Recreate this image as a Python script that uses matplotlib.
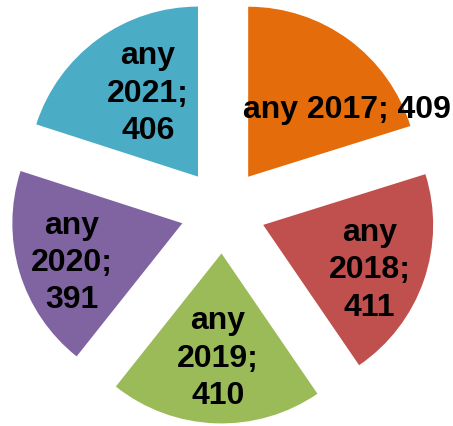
import numpy as np
import matplotlib.pyplot as plt

plt.rcParams["font.family"] = ["Liberation Sans", "DejaVu Sans"]

# data
years = ["any 2017", "any 2018", "any 2019", "any 2020", "any 2021"]
counts = [409, 411, 410, 391, 406]
colors = ["#E46C0A", "#C0504D", "#9BBB59", "#8064A2", "#4BACC6"]

# label layout (excel wraps all but the first one)
wrap = [False, True, True, True, True]
label_dist = [0.70, 0.68, 0.62, 0.69, 0.57]
label_turn = [-19.5, -4, 0, 3, -5]


def make_label(name, val, w):
    if w:
        return name.replace(" ", "\n") + ";\n" + str(val)
    return f"{name}; {val}"


def main():
    fig = plt.figure(figsize=(4.53, 4.26), dpi=100)
    ax = fig.add_axes([0, 0, 1, 1])

    wedges, _ = ax.pie(counts, colors=colors, startangle=90, counterclock=False,
                       explode=[0.25] * len(counts), radius=1.0,
                       wedgeprops=dict(linewidth=0))

    for w, name, val, wr, d, t in zip(wedges, years, counts, wrap, label_dist, label_turn):
        mid = np.deg2rad((w.theta1 + w.theta2) / 2 + t)
        cx, cy = w.center
        ax.text(cx + d * np.cos(mid), cy + d * np.sin(mid),
                make_label(name, val, wr),
                ha="center", va="center", multialignment="center",
                fontsize=23, fontweight="bold", color="black",
                linespacing=1.32)

    ax.set_xlim(-1.312, 1.353)
    ax.set_ylim(-1.265, 1.241)
    ax.set_aspect("equal", adjustable="datalim")
    ax.axis("off")
    fig.savefig("out.png", dpi=100)


if __name__ == "__main__":
    main()
